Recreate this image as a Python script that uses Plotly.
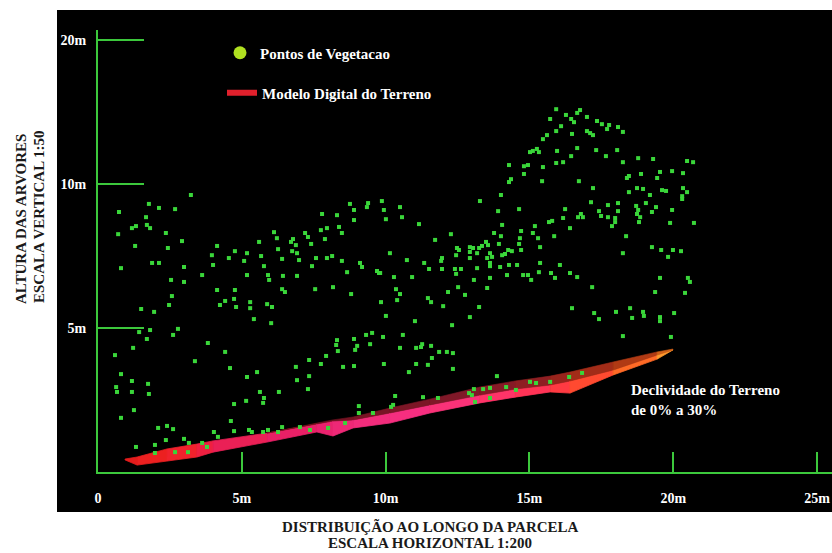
import plotly.graph_objects as go

# ---------------------------------------------------------------------------
# Vegetation point cloud: distance along the plot (m) and height (axis units)
# ---------------------------------------------------------------------------
veg_x = [
    3.23, 0.73, 1.77, 2.12, 2.68, 1.67, 1.18, 1.32, 1.70, 1.81, 0.70, 2.36, 2.92, 1.29, 2.43,
    4.14, 3.96, 4.76, 4.55, 5.18, 5.08, 0.80, 1.88, 2.12, 4.00, 2.99, 5.18, 3.62, 2.54, 2.99,
    4.14, 4.76, 2.57, 4.42, 4.73, 4.24, 4.80, 5.29, 5.29, 1.50, 1.95, 2.47, 2.78, 1.81, 1.43,
    1.70, 2.61, 3.82, 1.22, 0.59, 4.42, 3.37, 4.59, 5.18, 0.80, 1.18, 1.74, 0.63, 0.66, 1.18,
    1.77, 4.73, 5.15, 1.25, 0.80, 4.62, 2.09, 2.40, 2.61, 4.03, 4.73, 5.25, 2.36, 2.99, 1.98,
    1.32, 4.17, 3.62,
    5.60, 6.12, 6.22, 6.26, 5.77, 5.67, 6.71, 6.78, 6.88, 6.75, 6.92, 6.99, 6.40, 7.20, 7.30,
    7.41, 7.79, 8.31, 7.75, 7.96, 7.89, 8.38, 8.48, 8.76, 8.90, 8.90, 9.39, 9.35, 9.87, 9.94,
    10.01, 7.44, 7.58, 7.96, 8.14, 8.48, 8.66, 9.11, 9.18, 9.70, 9.77, 5.91, 5.95, 6.43, 6.92,
    6.40, 6.50, 7.55, 8.17, 8.80, 9.84, 10.01, 5.88, 6.05, 5.42, 6.02, 9.32, 9.53, 9.91, 8.90,
    9.01, 8.31, 8.28, 9.46, 7.93, 8.94, 7.34, 7.75, 8.34, 8.52, 8.90, 9.94, 6.88, 7.34,
    5.63, 5.77, 5.74, 6.29, 5.53, 6.92, 7.30, 9.07, 8.00, 6.40, 5.91, 9.07, 5.35, 5.74, 6.26,
    7.02, 7.37, 8.59, 9.56, 3.16, 3.79, 2.68, 3.13, 1.98,
    13.28, 10.50, 10.57, 11.16, 12.27, 11.72, 13.91, 13.77, 13.49, 13.56, 12.48, 12.55, 12.93,
    13.04, 13.25, 13.94, 12.45, 12.93, 13.18, 13.63, 13.70, 13.53, 10.15, 10.74, 11.34, 11.96,
    11.93, 11.51, 11.96, 12.41, 12.62, 12.45, 12.93, 13.18, 13.63, 9.81, 10.29, 10.92, 13.07,
    13.63, 10.36, 10.50, 10.40, 11.47, 11.58, 12.17, 12.52, 12.76, 13.53, 12.00, 13.25, 11.02,
    12.93, 12.31, 10.60,
    15.93, 16.27, 16.66, 16.76, 17.00, 15.72, 16.45, 16.55, 17.35, 17.52, 17.77, 17.70, 18.08,
    18.25, 16.10, 15.93, 17.00, 17.11, 17.21, 16.48, 15.61, 15.47, 17.32, 18.05, 16.66, 15.96,
    15.26, 15.12, 15.02, 15.33, 16.45, 17.66, 18.78, 19.30, 20.48, 20.69, 18.25, 16.17, 15.93,
    14.95, 14.81, 14.29, 15.47, 14.81, 14.36, 14.29, 15.44, 16.72, 19.54, 19.96, 20.34, 18.88,
    18.46, 18.39, 19.44, 17.21, 18.74, 18.95, 19.61, 19.75, 20.34, 18.46, 20.48, 20.31, 20.31,
    14.01, 19.19, 18.71, 18.78, 17.73, 18.08, 17.14, 19.05, 19.40, 16.24, 14.64, 16.79, 16.69,
    16.86, 17.42, 17.73, 17.49, 17.98, 18.08, 17.98, 17.87, 18.74, 18.85, 18.81, 19.26, 19.96,
    20.72, 19.89, 16.17, 16.41, 15.86, 15.19, 15.12, 14.71, 14.67, 15.30, 15.37, 15.68, 15.79,
    14.05, 14.01, 14.05, 14.15, 14.26, 14.39, 14.71, 14.64, 13.35, 13.63, 13.98, 14.57, 14.29,
    15.37, 15.33, 15.75, 15.89, 16.06, 16.41, 16.66, 15.06, 14.78, 14.95, 14.22, 17.18, 18.25,
    18.36, 19.58, 19.99, 20.27, 19.82, 19.26, 19.54, 20.51, 20.58, 20.41, 19.37, 18.95, 18.98,
    18.50, 18.57, 19.54, 19.54, 20.03, 18.01, 17.25, 17.42, 16.48, 18.25, 19.92,
    11.27, 11.23, 11.58, 11.06, 10.50, 11.86, 12.13, 12.34, 11.61, 11.06, 11.47, 10.81, 12.34,
    13.87, 10.33, 10.26, 10.19, 11.30, 11.82, 12.90, 13.00, 13.07, 13.39, 13.63, 14.19, 14.53,
    15.02, 15.23, 15.72, 16.38, 16.83, 13.11, 13.63,
]
veg_y = [
    9.62, 9.03, 9.31, 9.17, 9.13, 8.85, 8.47, 8.54, 8.58, 8.47, 8.26, 8.30, 8.02, 7.85, 7.78,
    7.85, 7.53, 7.67, 7.43, 7.60, 7.33, 7.08, 7.26, 7.26, 7.19, 7.12, 6.84, 6.84, 6.67, 6.60,
    6.32, 6.32, 6.11, 5.94, 6.01, 5.80, 5.73, 5.90, 5.69, 5.66, 5.56, 5.80, 4.97, 4.93, 4.86,
    4.62, 4.76, 4.48, 4.31, 4.06, 4.17, 3.85, 3.61, 3.30, 3.40, 3.16, 3.06, 2.95, 2.78, 2.78,
    2.71, 2.36, 2.47, 2.15, 1.88, 1.77, 1.53, 1.60, 1.49, 1.39, 1.42, 1.46, 1.11, 1.15, 0.94,
    0.87, 1.22, 1.01,
    7.99, 8.33, 8.12, 7.74, 7.15, 7.50, 7.99, 8.09, 7.88, 7.67, 7.60, 7.36, 7.40, 8.30, 8.16,
    7.92, 8.96, 8.92, 8.40, 8.47, 8.09, 8.51, 8.30, 9.31, 9.10, 8.75, 9.34, 9.20, 9.41, 9.10,
    8.78, 7.15, 7.43, 7.43, 7.50, 7.33, 6.94, 7.26, 7.12, 6.98, 6.91, 6.84, 6.67, 6.81, 6.81,
    6.35, 6.25, 6.35, 6.42, 6.18, 5.90, 5.42, 5.83, 5.73, 5.31, 5.17, 4.76, 4.83, 4.69, 4.62,
    4.38, 4.58, 4.41, 4.44, 4.03, 4.24, 3.89, 3.75, 4.20, 3.65, 3.68, 3.75, 3.65, 3.33,
    2.78, 2.57, 2.40, 2.78, 3.47, 3.19, 2.88, 2.29, 1.53, 1.56, 1.46, 2.05, 1.39, 1.39, 1.39,
    1.56, 1.46, 1.70, 2.05, 1.01, 0.87, 0.69, 0.69, 0.66,
    9.41, 9.20, 8.85, 8.61, 8.26, 8.06, 9.06, 8.30, 7.99, 7.88, 7.78, 7.71, 7.81,
    7.78, 7.78, 7.92, 7.53, 7.64, 7.60, 7.60, 7.47, 7.43, 7.60, 7.36, 7.26, 7.43,
    7.33, 7.05, 7.05, 7.05, 7.05, 6.88, 7.43, 7.08, 7.15, 6.91, 6.77, 6.77, 6.67,
    6.74, 6.35, 6.18, 5.97, 6.04, 5.90, 6.25, 6.42, 6.15, 6.39, 5.76, 5.73, 5.24,
    5.38, 5.10, 4.76,
    12.60, 12.40, 12.47, 12.57, 12.33, 12.26, 12.26, 12.15, 12.19, 12.08, 12.05, 11.91, 11.98,
    11.81, 12.01, 11.84, 11.84, 11.77, 11.70, 11.74, 11.70, 11.56, 11.18, 11.18, 11.25, 11.15,
    11.22, 11.15, 11.11, 11.11, 10.97, 10.97, 10.90, 10.87, 10.80, 10.76, 10.76, 10.76, 10.73,
    10.66, 10.62, 10.66, 10.59, 10.35, 10.17, 10.07, 10.10, 10.10, 10.42, 10.45, 10.38, 10.35,
    10.28, 10.21, 10.21, 9.86, 9.86, 9.83, 9.79, 9.76, 9.86, 9.72, 9.72, 9.58, 9.48,
    9.62, 9.62, 9.24, 9.10, 9.27, 9.34, 9.37, 9.34, 9.20, 9.13, 9.13, 8.96, 8.85,
    8.85, 9.06, 8.85, 8.89, 8.82, 9.06, 8.68, 8.54, 8.96, 8.85, 8.68, 9.03, 9.10,
    8.65, 8.65, 8.82, 8.47, 8.19, 8.54, 8.30, 8.37, 8.12, 8.12, 7.81, 8.68, 8.72,
    8.58, 8.19, 7.53, 7.57, 7.71, 7.67, 7.71, 7.92, 7.85, 7.26, 7.12, 7.19, 7.19,
    7.26, 6.94, 6.91, 6.74, 7.19, 6.91, 6.77, 6.67, 6.84, 6.84, 6.84, 6.42, 7.60,
    8.19, 7.71, 7.71, 7.67, 7.47, 7.81, 6.74, 6.74, 6.60, 6.22, 6.25, 5.56, 5.42,
    5.69, 5.35, 5.38, 5.24, 5.52, 5.56, 5.52, 5.31, 5.69, 4.72, 4.69,
    4.44, 4.34, 4.38, 4.31, 4.31, 4.17, 4.17, 4.13, 3.96, 3.75, 3.72, 3.47, 3.58,
    3.33, 2.64, 2.33, 2.26, 2.60, 2.57, 2.74, 2.67, 2.88, 2.88, 2.92, 2.95, 2.85,
    3.13, 3.09, 3.13, 3.30, 3.44, 2.43, 2.57,
]

# ---------------------------------------------------------------------------
# Digital terrain model profile: base, bright surface and upper (shaded) edge
# ---------------------------------------------------------------------------
terrain_x = [0.94, 1.36, 2.40, 3.44, 4.00, 5.88, 7.61, 8.17, 8.87, 10.15, 11.54, 13.28,
             14.50, 15.72, 16.41, 17.91, 19.44, 19.99]
terrain_base = [0.42, 0.24, 0.38, 0.52, 0.69, 1.04, 1.39, 1.25, 1.53, 1.70, 2.05, 2.40,
                2.60, 2.78, 2.74, 3.37, 3.92, 4.24]
terrain_mid = [0.45, 0.52, 0.80, 0.97, 1.08, 1.35, 1.67, 1.77, 1.81, 2.05, 2.33, 2.67,
               2.88, 3.02, 3.16, 3.54, 4.06, 4.24]
terrain_top = [0.45, 0.52, 0.80, 0.97, 1.08, 1.35, 1.70, 1.81, 1.91, 2.22, 2.53, 2.95,
               3.16, 3.33, 3.47, 3.82, 4.17, 4.27]

# Axis ticks
x_tick_vals = [0, 5, 10, 15, 20, 25]
x_tick_text = ["0", "5m", "10m", "15m", "20m", "25m"]
y_tick_vals = [5, 10, 15]
y_tick_text = ["5m", "10m", "20m"]

# Colour ramp along the terrain surface (red -> pink -> orange tip)
surface_colors = ["#e41c1c", "#ec2020", "#f0222c", "#ee2040", "#ea2056", "#e82066",
                  "#ea226e", "#ee2876", "#f22c7c", "#f62e80", "#fa3278", "#ff3468",
                  "#ff3356", "#ff3a42", "#ff4a30", "#ff6a26", "#ff9a2e"]
shade_colors = ["#701018", "#701018", "#701018", "#701018", "#701018", "#701018",
                "#701020", "#741222", "#781424", "#7c1626", "#801828", "#861a26",
                "#8e1e22", "#98241c", "#a22c18", "#b03a14", "#d06018"]

GREEN = "#3cc83c"
FONT = "Liberation Serif"

fig = go.Figure()

# Terrain band, drawn as a strip of coloured quads
for i in range(len(terrain_x) - 1):
    x0, x1 = terrain_x[i], terrain_x[i + 1]
    c = surface_colors[i]
    fig.add_trace(go.Scatter(
        x=[x0, x1, x1, x0, x0],
        y=[terrain_base[i], terrain_base[i + 1], terrain_mid[i + 1], terrain_mid[i], terrain_base[i]],
        mode="lines", fill="toself", fillcolor=c, line=dict(color=c, width=0.8),
        showlegend=False, hoverinfo="skip"))
    if terrain_top[i] > terrain_mid[i] or terrain_top[i + 1] > terrain_mid[i + 1]:
        s = shade_colors[i]
        fig.add_trace(go.Scatter(
            x=[x0, x1, x1, x0, x0],
            y=[terrain_mid[i], terrain_mid[i + 1], terrain_top[i + 1], terrain_top[i], terrain_mid[i]],
            mode="lines", fill="toself", fillcolor=s, line=dict(color=s, width=0.6),
            showlegend=False, hoverinfo="skip"))

# Vegetation points
fig.add_trace(go.Scatter(
    x=veg_x, y=veg_y, mode="markers",
    marker=dict(symbol="square", size=4, color="#3ad63a", line=dict(width=0)),
    showlegend=False, hoverinfo="skip"))

# Legend entries
fig.add_trace(go.Scatter(
    x=[None], y=[None], mode="markers", name="Pontos de Vegetacao",
    marker=dict(symbol="circle", size=13, color="#b0e020"), legend="legend"))
fig.add_trace(go.Scatter(
    x=[None], y=[None], mode="lines", name="Modelo Digital do Terreno",
    line=dict(color="#e0202c", width=6), legend="legend2"))

W, H = 832, 553
ML, MR, MT, MB = 98, 0, 30, 81
PW, PH = W - ML - MR, H - MT - MB


def px(xp):
    return (xp - ML) / PW


def py(yp):
    return (H - MB - yp) / PH


label_font = dict(family=FONT, size=15, color="white", weight="bold")
title_font = dict(family=FONT, size=15, color="#1a1a1a", weight="bold")

legend_style = dict(
    font=label_font, bgcolor="rgba(0,0,0,0)", borderwidth=0,
    xanchor="left", yanchor="middle", itemsizing="trace")

fig.update_layout(
    width=W, height=H,
    margin=dict(l=ML, r=MR, t=MT, b=MB),
    paper_bgcolor="white", plot_bgcolor="black",
    showlegend=True,
    legend=dict(x=px(220), y=py(53), **legend_style),
    legend2=dict(x=px(222), y=py(93), **legend_style),
    xaxis=dict(
        range=[0, 25.52], tickmode="array", tickvals=x_tick_vals, ticktext=x_tick_text,
        ticks="inside", ticklen=20, tickwidth=1.5, tickcolor=GREEN,
        showline=True, linecolor=GREEN, linewidth=2, showgrid=False, zeroline=False,
        ticklabelstandoff=12,
        tickfont=dict(family=FONT, size=14, color="white", weight="bold")),
    yaxis=dict(
        range=[0, 15.35], tickmode="array", tickvals=y_tick_vals, ticktext=y_tick_text,
        ticks="inside", ticklen=46, tickwidth=1.5, tickcolor=GREEN,
        showline=True, linecolor=GREEN, linewidth=2, showgrid=False, zeroline=False,
        ticklabelstandoff=7,
        tickfont=dict(family=FONT, size=14, color="white", weight="bold")),
    shapes=[dict(type="rect", xref="paper", yref="paper",
                 x0=px(57), x1=1.01, y0=py(512), y1=py(10),
                 fillcolor="black", line=dict(width=0), layer="below")],
    annotations=[
        dict(text="Declividade do Terreno<br>de 0% a 30%", x=18.45, y=2.5, xref="x", yref="y",
             xanchor="left", yanchor="middle", align="left", showarrow=False, font=label_font),
        dict(text="DISTRIBUIÇÃO AO LONGO DA PARCELA", x=px(430), y=py(526),
             xref="paper", yref="paper", xanchor="center", yanchor="middle",
             showarrow=False, font=title_font),
        dict(text="ESCALA HORIZONTAL 1:200", x=px(430), y=py(543),
             xref="paper", yref="paper", xanchor="center", yanchor="middle",
             showarrow=False, font=title_font),
        dict(text="ALTURA DAS ARVORES", textangle=-90, x=px(21), y=py(219),
             xref="paper", yref="paper", xanchor="center", yanchor="middle",
             showarrow=False, font=title_font),
        dict(text="ESCALA VERTICAL 1:50", textangle=-90, x=px(39), y=py(217),
             xref="paper", yref="paper", xanchor="center", yanchor="middle",
             showarrow=False, font=title_font),
    ],
)

fig.write_html("out.html", config={"displayModeBar": False})
